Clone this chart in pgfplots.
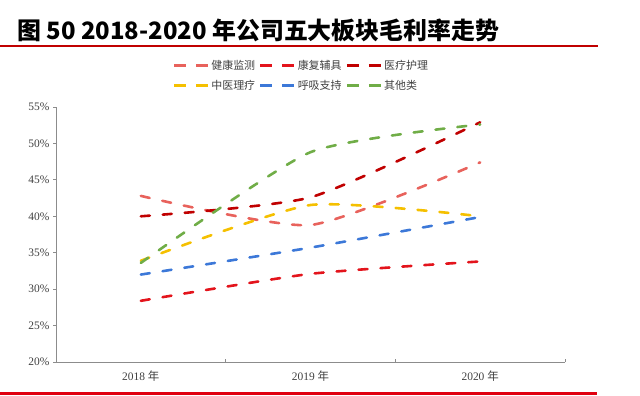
\documentclass[border=0pt]{standalone}
\usepackage{pgfplots}
\pgfplotsset{compat=1.18}
\usepackage{fontspec}
\setmainfont{Liberation Serif}
\newfontfamily\cjk{Noto Sans CJK SC}
\definecolor{c1}{HTML}{E8625C}
\definecolor{c2}{HTML}{E3141C}
\definecolor{c3}{HTML}{C00000}
\definecolor{c4}{HTML}{F5C000}
\definecolor{c5}{HTML}{3C78D8}
\definecolor{c6}{HTML}{70AD47}
\definecolor{axisgray}{HTML}{8C8C8C}
\definecolor{labelgray}{HTML}{404040}
\definecolor{titlered}{HTML}{C00000}
\definecolor{botred}{HTML}{E00010}
\tikzset{dashline/.style={line width=2.6bp, dash pattern=on 9bp off 13bp, line cap=round, smooth, tension=0.35}}
\begin{document}
\begin{tikzpicture}[x=1bp,y=1bp]
\path[use as bounding box] (0,0) rectangle (640,395);
\node[anchor=west, inner sep=0, font=\cjk\bfseries\fontsize{24}{28}\selectfont] at (17,365) {图 50 2018-2020 年公司五大板块毛利率走势};
\draw[color=titlered, line width=1.5bp] (0,349) -- (598,349);
\draw[color=botred, line width=3bp] (0,1.5) -- (597,1.5);
\begin{axis}[
  at={(56bp,33bp)}, anchor=south west,
  width=509bp, height=255bp, scale only axis,
  xmin=0, xmax=3, ymin=20, ymax=55,
  axis x line*=bottom, axis y line*=left,
  axis line style={draw=axisgray, line width=0.8bp, -},
  ytick={20,25,...,55},
  yticklabel={\pgfmathprintnumber{\tick}\%},
  /pgf/number format/assume math mode=true,
  tick align=outside,
  major tick length=3bp,
  ytick style={draw=axisgray, line width=0.8bp},
  yticklabel style={font=\fontsize{11.5}{13}\selectfont, text=labelgray},
  xtick={0.5,1.5,2.5},
  xticklabels={2018 {\cjk 年}, 2019 {\cjk 年}, 2020 {\cjk 年}},
  xtick style={draw=none},
  xticklabel style={font=\fontsize{11.5}{13}\selectfont, text=labelgray, yshift=-2.5bp},
  extra x ticks={0,1,2,3},
  extra x tick labels={},
  extra x tick style={tick align=inside, xtick style={draw=axisgray, line width=0.8bp}},
  clip=false,
  legend style={at={(0.229,1.192)}, anchor=north west, draw=none, fill=none, inner sep=0pt,
    font=\cjk\fontsize{11}{12}\selectfont, text=labelgray,
    /tikz/every even column/.append style={column sep=2bp},
    row sep=5bp},
  legend columns=3,
  legend cell align=left,
  legend image code/.code={\draw[#1, line width=2.6bp, dash pattern=on 12bp off 10bp, line cap=butt] (0bp,0bp) -- (34bp,0bp);},
]
\addplot[color=c1, dashline] coordinates {(0.5,42.8) (1.5,38.8) (2.5,47.4)};
\addlegendentry{健康监测}
\addplot[color=c2, dashline] coordinates {(0.5,28.4) (1.5,32.1) (2.5,33.8)};
\addlegendentry{康复辅具}
\addplot[color=c3, dashline] coordinates {(0.5,40.0) (1.5,42.6) (2.5,52.9)};
\addlegendentry{医疗护理}
\addplot[color=c4, dashline] coordinates {(0.5,33.9) (1.5,41.55) (2.5,40.0)};
\addlegendentry{中医理疗}
\addplot[color=c5, dashline] coordinates {(0.5,32.0) (1.5,35.7) (2.5,39.9)};
\addlegendentry{呼吸支持}
\addplot[color=c6, dashline] coordinates {(0.5,33.6) (1.5,48.8) (2.5,52.6)};
\addlegendentry{其他类}
\end{axis}
\end{tikzpicture}
\end{document}
